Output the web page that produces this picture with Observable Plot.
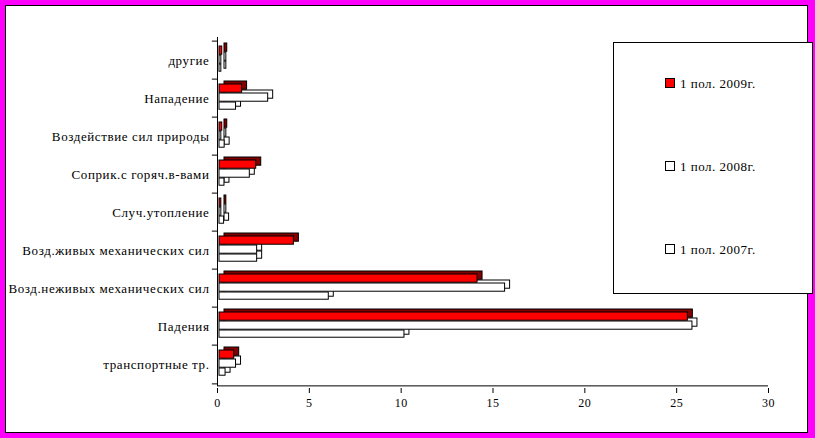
<!DOCTYPE html>
<html>
<head>
<meta charset="utf-8">
<script src="https://cdn.jsdelivr.net/npm/d3@7"></script>
<script src="https://cdn.jsdelivr.net/npm/@observablehq/plot@0.6"></script>
<style>
  html, body { margin: 0; padding: 0; }
  #wrap { position: relative; width: 815px; height: 438px; background: #ff00ff; overflow: hidden; font-family: "Liberation Serif", "Times New Roman", serif; }
  #inner { position: absolute; left: 5px; top: 5px; width: 803px; height: 428px; box-sizing: border-box; border: 1px solid #000; background: #fff; }
  #chart { position: absolute; left: 0; top: 0; }
  #legend { position: absolute; left: 613px; top: 42px; width: 200px; height: 252px; box-sizing: border-box; border: 1px solid #000; background: #fff; }
  .item { position: absolute; left: 51px; font-size: 13px; line-height: 14px; height: 14px; white-space: nowrap; color: #000; letter-spacing: 0.5px; }
  .sw { display: inline-block; width: 8px; height: 8px; border: 1px solid #000; margin-right: 5px; vertical-align: 0px; }
  #chart [aria-label="y-axis tick label"] text { letter-spacing: 0.6px; }
  #chart [aria-label="x-axis tick label"] text { letter-spacing: 0.5px; }
</style>
</head>
<body>
<div id="wrap">
  <div id="inner"></div>
  <div id="chart"></div>
  <div id="legend"></div>
</div>
<script>
const categories = [
  "другие",
  "Нападение",
  "Воздействие сил природы",
  "Соприк.с горяч.в-вами",
  "Случ.утопление",
  "Возд.живых механических сил",
  "Возд.неживых механических сил",
  "Падения",
  "транспортные тр."
];
const v2009 = [0.15, 1.23, 0.15, 2.0, 0.1, 4.05, 14.05, 25.5, 0.8];
const v2008 = [0.1, 2.65, 0.1, 1.65, 0.1, 2.05, 15.55, 25.75, 0.9];
const v2007 = [0.1, 0.9, 0.28, 0.27, 0.25, 2.05, 5.95, 10.07, 0.33];
const seriesNames = ["1 пол. 2009г.", "1 пол. 2008г.", "1 пол. 2007г."];
const xTicks = [0, 5, 10, 15, 20, 25, 30];

const rows = (vals) => categories.map((c, i) => ({cat: c, v: vals[i]}));

const H = 438, W = 815;
const mTop = 37, mBottom = 52;
const bw = (H - mTop - mBottom) / categories.length;

const seriesDefs = [
  {data: rows(v2007), front: "#ffffff", back: "#ffffff", top: 23, h: 8},
  {data: rows(v2008), front: "#ffffff", back: "#ffffff", top: 14, h: 9},
  {data: rows(v2009), front: "#ff0000", back: "#800000", top: 5, h: 9}
];

const marks = [];
for (const s of seriesDefs) {
  const common = {x: "v", y: "cat", insetTop: s.top, insetBottom: bw - s.top - s.h, stroke: "#000", strokeWidth: 1};
  marks.push(Plot.barX(s.data, {...common, fill: s.back, dx: 7, dy: -3}));
  marks.push(Plot.barX(s.data, {...common, fill: s.front, dx: 2}));
}
// vertical axis line
marks.push(Plot.ruleX([0], {stroke: "#000"}));
// category tick marks at band boundaries
marks.push(Plot.ruleY(categories, {y: d => d, x1: -0.28, x2: 0, dy: -bw / 2, stroke: "#000"}));
marks.push(Plot.ruleY([categories[categories.length - 1]], {y: d => d, x1: -0.28, x2: 0, dy: bw / 2, stroke: "#000"}));
// bottom axis line
marks.push(Plot.ruleY([categories[categories.length - 1]], {y: d => d, x1: 0, x2: 30, dy: bw / 2 + 2, stroke: "#000"}));

const chart = Plot.plot({
  width: W,
  height: H,
  marginLeft: 217,
  marginRight: 47,
  marginTop: mTop,
  marginBottom: mBottom,
  style: {background: "transparent", fontFamily: "'Liberation Serif', 'Times New Roman', serif", fontSize: "13px", color: "#000", overflow: "visible"},
  x: {domain: [0, 30], ticks: xTicks, tickSize: 5, tickPadding: 4, label: null, tickFormat: d => String(d)},
  y: {domain: categories, padding: 0, tickSize: 0, tickPadding: 8, label: null},
  marks: [
    Plot.axisX({ticks: xTicks, tickSize: 5, tickPadding: 5, dy: 2, label: null, fontSize: 12}),
    Plot.axisY({tickSize: 0, tickPadding: 8, label: null, fontSize: 13}),
    ...marks
  ]
});
document.getElementById("chart").appendChild(chart);

const legend = document.getElementById("legend");
const colors = ["#ff0000", "#ffffff", "#ffffff"];
const centers = [41, 124, 207];
seriesNames.forEach((n, i) => {
  const d = document.createElement("div");
  d.className = "item";
  d.style.top = (centers[i] - 7) + "px";
  d.innerHTML = `<span class="sw" style="background:${colors[i]}"></span>${n}`;
  legend.appendChild(d);
});
</script>
</body>
</html>
